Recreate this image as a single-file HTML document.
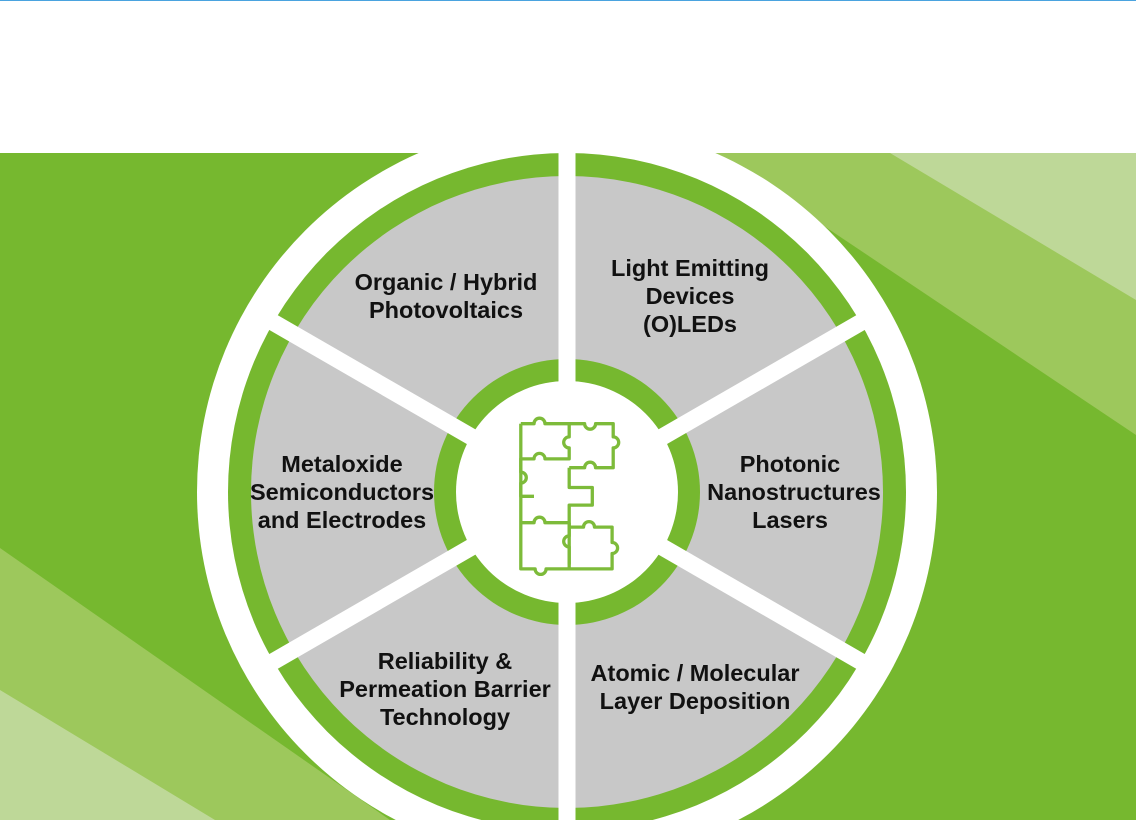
<!DOCTYPE html>
<html><head><style>
html,body{margin:0;padding:0;width:1136px;height:820px;overflow:hidden;background:#fff;font-family:"Liberation Sans",Arial,sans-serif}
svg{display:block}
</style></head><body>
<svg width="1136" height="820" viewBox="0 0 1136 820" xmlns="http://www.w3.org/2000/svg">
<defs><clipPath id="c"><circle cx="567" cy="492" r="366"/></clipPath><clipPath id="f"><rect x="0" y="0" width="1136" height="820"/></clipPath></defs>
<g clip-path="url(#f)">
<rect x="0" y="153" width="1136" height="667" fill="#76b82f"/>
<polygon points="715,153 1136,153 1136,435" fill="#9dc85c"/>
<polygon points="890,153 1136,153 1136,300" fill="#bed898"/>
<polygon points="0,548 0,820 390,820" fill="#9dc85c"/>
<polygon points="0,690 0,820 215,820" fill="#bed898"/>
<circle cx="567" cy="492" r="370" fill="#fff"/>
<circle cx="567" cy="492" r="339" fill="#76b82f"/>
<circle cx="567" cy="492" r="316" fill="#c8c8c8"/>
<circle cx="567" cy="492" r="133" fill="#76b82f"/>
<circle cx="567" cy="492" r="111" fill="#fff"/>
<g stroke="#fff" stroke-width="17" clip-path="url(#c)">
<line x1="567" y1="492" x2="567" y2="100"/>
<line x1="567" y1="492" x2="567" y2="880"/>
<line x1="567" y1="492" x2="910" y2="294"/>
<line x1="567" y1="492" x2="910" y2="690"/>
<line x1="567" y1="492" x2="224" y2="294"/>
<line x1="567" y1="492" x2="224" y2="690"/>
</g>
<circle cx="567" cy="492" r="105" fill="#fff"/>
</g>
<rect x="0" y="0" width="1136" height="153" fill="#fff"/>
<rect x="0" y="0" width="1136" height="1" fill="#4aa3df"/>
<g fill="none" stroke="#7dbb3a" stroke-width="3" stroke-linejoin="round" transform="translate(567,493) scale(1.1) translate(-567,-493)">
<path d="M525,430 h12 a5,5 0 1 1 10,0 h22 v12 a5,5 0 1 0 0,10 v10 h-22 a5,5 0 1 0 -10,0 h-12 v12 a5,5 0 1 1 0,10 v12 h12"/>
<path d="M525,430 v40"/>
<path d="M569,430 h14 a5,5 0 1 0 10,0 h16 v12 a5,5 0 1 1 0,10 v18 h-16 a5,5 0 1 0 -10,0 h-14"/>
<path d="M525,470 v50 M525,520 v42 h13 a5,5 0 1 0 10,0 h60 v-14 a5,5 0 1 0 0,-10 v-14 h-16 a5,5 0 1 0 -10,0 h-14"/>
<path d="M569,470 v18 h21 v16 h-21 v54"/>
<path d="M525,520 h12 a5,5 0 1 1 10,0 h22"/>
<path d="M569,520 v12 a5,5 0 1 0 0,10 v20"/>
</g>
<g font-family="'Liberation Sans',Arial,sans-serif" font-weight="bold" font-size="23.5" fill="#111" text-anchor="middle">
<text x="446" y="290">Organic / Hybrid</text>
<text x="446" y="318">Photovoltaics</text>
<text x="690" y="276">Light Emitting</text>
<text x="690" y="304">Devices</text>
<text x="690" y="332">(O)LEDs</text>
<text x="342" y="472">Metaloxide</text>
<text x="342" y="500">Semiconductors</text>
<text x="342" y="528">and Electrodes</text>
<text x="790" y="472">Photonic</text>
<text x="794" y="500">Nanostructures</text>
<text x="790" y="528">Lasers</text>
<text x="445" y="669">Reliability &amp;</text>
<text x="445" y="697">Permeation Barrier</text>
<text x="445" y="725">Technology</text>
<text x="695" y="681">Atomic / Molecular</text>
<text x="695" y="709">Layer Deposition</text>
</g>
</svg>
</body></html>
